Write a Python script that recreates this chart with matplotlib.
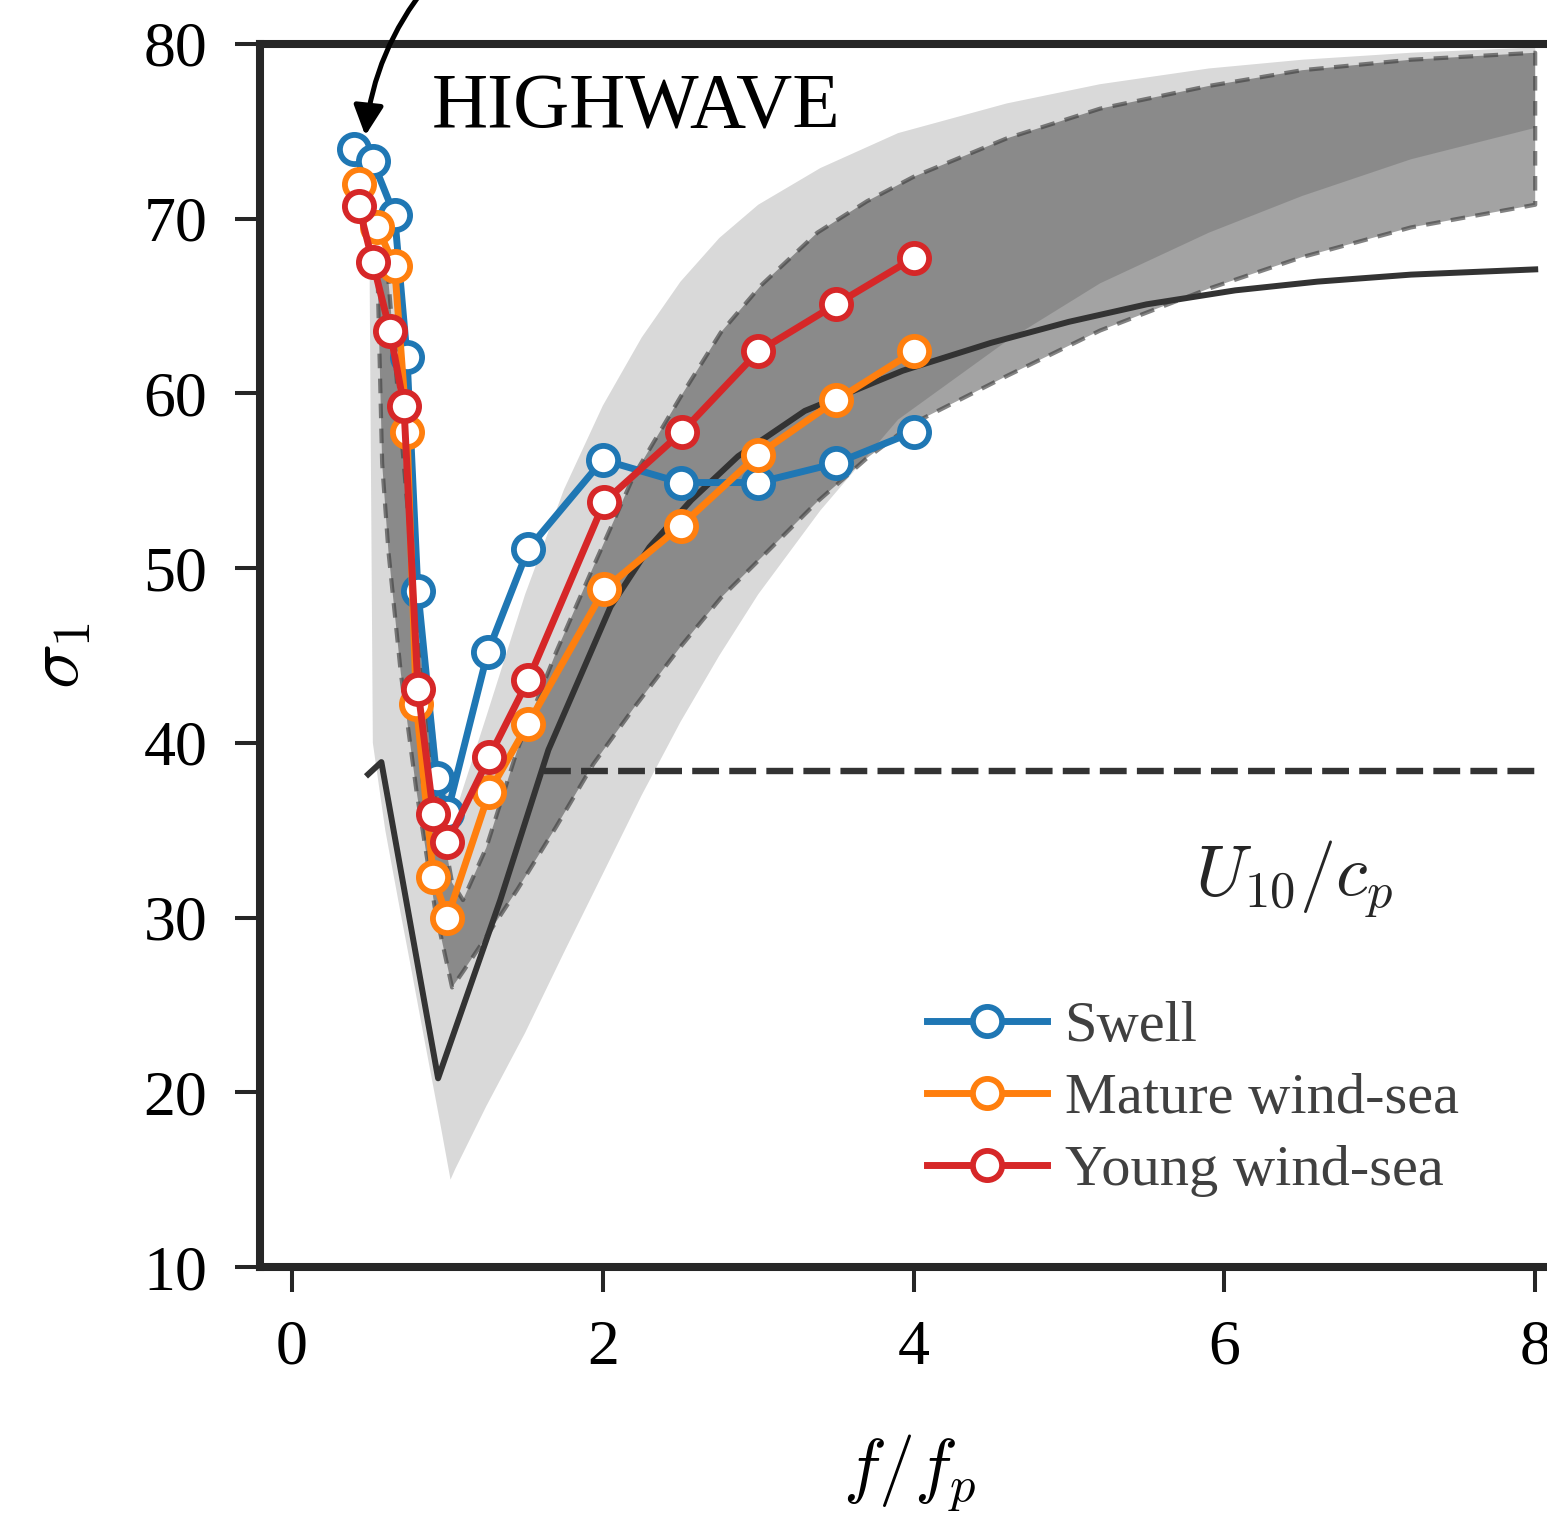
import numpy as np
import matplotlib.pyplot as plt

plt.rcParams['font.family'] = ['Liberation Serif', 'DejaVu Serif']
plt.rcParams['mathtext.fontset'] = 'cm'

# measured sigma_1 against f/fp
swell_x = [0.40, 0.52, 0.66, 0.74, 0.81, 0.93, 1.0, 1.26, 1.52, 2.0, 2.5, 3.0, 3.5, 4.0]
swell_y = [74.0, 73.3, 70.2, 62.1, 48.7, 38.0, 36.0, 45.2, 51.1, 56.2, 54.9, 54.9, 56.0, 57.8]
mature_x = [0.43, 0.55, 0.66, 0.74, 0.80, 0.91, 1.0, 1.27, 1.52, 2.01, 2.5, 3.0, 3.5, 4.0]
mature_y = [72.0, 69.5, 67.3, 57.8, 42.2, 32.3, 30.0, 37.2, 41.1, 48.8, 52.4, 56.5, 59.6, 62.4]
young_x = [0.43, 0.52, 0.63, 0.72, 0.81, 0.91, 1.0, 1.27, 1.52, 2.01, 2.51, 3.0, 3.5, 4.0]
young_y = [70.7, 67.5, 63.6, 59.3, 43.1, 35.9, 34.3, 39.2, 43.6, 53.8, 57.8, 62.4, 65.1, 67.75]

# reference model curve (solid) and its high-frequency level (dashed)
model_x = [0.49, 0.575, 0.94, 1.34, 1.65, 2.05, 2.3, 2.57, 2.87, 3.3, 3.93, 4.5, 5.0,
           5.5, 6.07, 6.6, 7.2, 8.0]
model_y = [38.2, 38.9, 20.8, 31.0, 39.6, 47.8, 51.2, 53.9, 56.4, 59.0, 61.3, 62.9, 64.1,
           65.1, 65.9, 66.4, 66.8, 67.1]
level_x = [1.62, 8.0]
level_y = [38.4, 38.4]

# wide light envelope
wide_x = [0.50, 0.52, 0.60, 0.70, 0.76, 0.85, 0.95, 1.02, 1.05, 1.25, 1.5, 1.75, 2.0, 2.25,
          2.5, 2.75, 3.0, 3.4, 3.9, 4.6, 5.2, 5.9, 6.5, 7.2, 8.0]
wide_lo = [66, 40, 35, 30.2, 27.4, 23.1, 18.4, 15.0, 15.6, 19.2, 23.4, 28.0, 32.5, 37.0,
           41.2, 45.0, 48.5, 53.3, 58.5, 63.0, 66.3, 69.2, 71.3, 73.4, 75.2]
wide_hi = [68, 68, 67.5, 66, 58, 46, 38.5, 36.5, 36, 41.5, 48.5, 54.5, 59.3, 63.2,
           66.4, 68.9, 70.8, 72.9, 74.9, 76.6, 77.7, 78.6, 79.1, 79.5, 79.8]

# narrow dark band (dashed edges), U10/cp range
band_x = [0.55, 0.58, 0.62, 0.7, 0.8, 0.92, 1.03, 1.1, 1.25, 1.45, 1.7, 1.94, 2.2, 2.5,
          2.76, 3.02, 3.38, 3.7, 4.0, 4.6, 5.2, 5.9, 6.5, 7.2, 8.0]
band_lo = [67, 56, 51, 44, 37.3, 30.5, 26, 26.9, 28.9, 31.6, 35.2, 38.8, 42, 45.5,
           48.3, 50.6, 53.8, 56.3, 58.3, 61.0, 63.6, 66.0, 67.8, 69.5, 70.8]
band_hi = [68, 68, 66.5, 58, 47.5, 37.5, 32, 31, 34, 39.6, 45.2, 50.1, 55.3, 59.8,
           63.5, 66.2, 69.2, 71, 72.4, 74.6, 76.3, 77.6, 78.5, 79.1, 79.5]

fig = plt.figure(figsize=(15.47, 15.13), dpi=100)
ax = fig.add_axes([0.16807, 0.16259, 0.83937, 0.80833])

ax.fill_between(wide_x, wide_lo, wide_hi, facecolor='black', alpha=0.15, lw=0)
ax.fill_between(band_x, band_lo, band_hi, facecolor=(0, 0, 0, 0.36),
                edgecolor=(0.25, 0.25, 0.25, 0.65), linestyle=(0, (3.5, 2.5)), lw=3.0)

ax.plot(model_x, model_y, color='0.2', lw=4.3)
ax.plot(level_x, level_y, color='0.2', lw=4.6, dashes=(4.2, 1.6))

series = [(swell_x, swell_y, '#1f77b4', 'Swell'),
          (mature_x, mature_y, '#ff7f0e', 'Mature wind-sea'),
          (young_x, young_y, '#d62728', 'Young wind-sea')]
for xs, ys, c, lab in series:
    ax.plot(xs, ys, color=c, lw=5, marker='o', ms=21, mfc='white', mec=c,
            mew=4.2, label=lab)

ax.set_xlim(-0.206, 8.15)
ax.set_ylim(10, 80)
ax.set_xticks([0, 2, 4, 6, 8])
ax.set_yticks(range(10, 81, 10))

for s in ['left', 'bottom', 'top']:
    ax.spines[s].set_linewidth(5.8)
    ax.spines[s].set_color('#262626')
ax.spines['right'].set_visible(False)
ax.tick_params(direction='out', length=18, width=2.9, color='#262626',
               labelsize=46, pad=20)

ax.set_xlabel('$f/f_p$', fontsize=52)
ax.set_ylabel(r'$\sigma_1$', fontsize=54)
ax.xaxis.set_label_coords(0.5, -0.135)
ax.yaxis.set_label_coords(-0.128, 0.5)

ax.text(0.90, 75.2, 'HIGHWAVE', fontsize=56, color='black')
ax.text(6.45, 32.2, '$U_{10}/c_p$', fontsize=52, color='0.15', ha='center', va='center')

ax.annotate('', xy=(0.47, 74.6), xytext=(0.88, 83.5),
            arrowprops=dict(arrowstyle='-|>', connectionstyle='arc3,rad=0.15',
                            lw=3.6, color='black', mutation_scale=45),
            annotation_clip=False)

leg = ax.legend(loc='upper left', bbox_to_anchor=(0.514, 0.218), frameon=False,
                fontsize=42, borderpad=0, handlelength=2.05, handletextpad=0.3,
                labelspacing=0.33, borderaxespad=0)
for t in leg.get_texts():
    t.set_color('0.25')

fig.savefig('out.png', dpi=100)
